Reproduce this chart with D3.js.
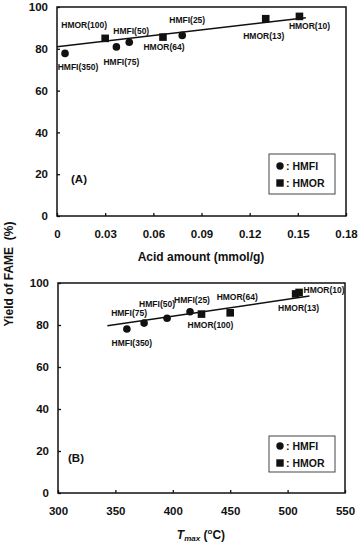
<!DOCTYPE html>
<html>
<head>
<meta charset="utf-8">
<script src="https://cdn.jsdelivr.net/npm/d3@7"></script>
<style>
	body { margin: 0; background: #fff; }
	svg { display: block; font-family: Arial, "Liberation Sans", sans-serif; font-weight: bold; }
</style>
</head>
<body>
<div id="chart"></div>
<script>
// catalysts, same order in both panels
const catalysts = ["HMFI(350)", "HMOR(100)", "HMFI(75)", "HMFI(50)", "HMOR(64)", "HMFI(25)", "HMOR(13)", "HMOR(10)"];
const catalystType = ["HMFI", "HMOR", "HMFI", "HMFI", "HMOR", "HMFI", "HMOR", "HMOR"];
const yieldA = [77.8, 85.0, 80.9, 83.1, 85.6, 86.4, 94.4, 95.5];
const acidAmount = [0.005, 0.030, 0.037, 0.045, 0.066, 0.078, 0.130, 0.151];
const yieldB = [78.1, 85.2, 80.9, 83.2, 85.8, 86.3, 94.8, 95.5];
const tMax = [360, 425, 375, 395, 450, 415, 507, 510];

// trend lines (end points)
const fitAx = [0, 0.155];
const fitAy = [81.0, 94.9];
const fitBx = [343, 519];
const fitBy = [79.6, 93.8];

const xTicksA = [0, 0.03, 0.06, 0.09, 0.12, 0.15, 0.18];
const xTicksB = [300, 350, 400, 450, 500, 550];
const yTicks = [0, 20, 40, 60, 80, 100];

const width = 359;
const height = 542;

// label offsets from the marker, px
const labelOffA = [[13, 14], [-21, -13], [5, 15], [2, -11], [1, 10], [5, -15], [-2, 17], [10, 10]];
const labelOffB = [[5, 14], [9, 11], [-15, -10], [-10, -14], [7, -16], [2, -12], [3, 14], [25, -2]];

const svg = d3.select("#chart")
	.append("svg")
	.attr("width", width)
	.attr("height", height);

svg.append("rect").attr("width", width).attr("height", height).attr("fill", "#fff");

const ink = "#111";

const drawPanel = (opt) => {
	const x = d3.scaleLinear().domain(opt.xDomain).range([opt.left, opt.right]);
	const y = d3.scaleLinear().domain([0, 100]).range([opt.bottom, opt.top]);

	const g = svg.append("g");

	g.append("g")
		.attr("transform", `translate(0,${opt.bottom})`)
		.call(d3.axisBottom(x).tickValues(opt.xTicks).tickSize(-3).tickPadding(14).tickFormat(opt.xFormat))
		.call((a) => a.select(".domain").remove())
		.call((a) => a.selectAll("line").attr("stroke", ink).attr("stroke-width", 1.3))
		.call((a) => a.selectAll("text").attr("fill", ink).style("font-size", "11.5px").style("font-family", "Arial, 'Liberation Sans', sans-serif").style("font-weight", "bold"));

	g.append("g")
		.attr("transform", `translate(${opt.left},0)`)
		.call(d3.axisLeft(y).tickValues(yTicks).tickSize(-3).tickPadding(9))
		.call((a) => a.select(".domain").remove())
		.call((a) => a.selectAll("line").attr("stroke", ink).attr("stroke-width", 1.3))
		.call((a) => a.selectAll("text").attr("fill", ink).style("font-size", "11.5px").style("font-family", "Arial, 'Liberation Sans', sans-serif").style("font-weight", "bold"));

	// frame
	g.append("rect")
		.attr("x", opt.left)
		.attr("y", opt.top)
		.attr("width", opt.right - opt.left)
		.attr("height", opt.bottom - opt.top)
		.attr("fill", "none")
		.attr("stroke", ink)
		.attr("stroke-width", 1.5);

	// trend line
	g.append("line")
		.attr("x1", x(opt.fitX[0]))
		.attr("y1", y(opt.fitY[0]))
		.attr("x2", x(opt.fitX[1]))
		.attr("y2", y(opt.fitY[1]))
		.attr("stroke", ink)
		.attr("stroke-width", 1.5);

	const pts = catalysts.map((name, i) => ({
		name,
		type: catalystType[i],
		xv: opt.xs[i],
		yv: opt.ys[i],
		off: opt.offsets[i],
	}));

	g.selectAll(".hmfi")
		.data(pts.filter((d) => d.type === "HMFI"))
		.join("circle")
		.attr("cx", (d) => x(d.xv))
		.attr("cy", (d) => y(d.yv))
		.attr("r", 3.8)
		.attr("fill", ink);

	g.selectAll(".hmor")
		.data(pts.filter((d) => d.type === "HMOR"))
		.join("rect")
		.attr("x", (d) => x(d.xv) - 3.8)
		.attr("y", (d) => y(d.yv) - 3.8)
		.attr("width", 7.6)
		.attr("height", 7.6)
		.attr("fill", ink);

	g.selectAll(".lbl")
		.data(pts)
		.join("text")
		.attr("x", (d) => x(d.xv) + d.off[0])
		.attr("y", (d) => y(d.yv) + d.off[1])
		.attr("dy", "0.35em")
		.attr("text-anchor", "middle")
		.attr("fill", ink)
		.style("font-size", "8.5px")
		.text((d) => d.name);

	// panel tag
	g.append("text")
		.attr("x", opt.tagX)
		.attr("y", opt.tagY)
		.attr("dy", "0.35em")
		.attr("fill", ink)
		.style("font-size", "11.5px")
		.text(opt.tag);

	// legend
	const lg = g.append("g").attr("transform", `translate(${opt.legX},${opt.legY})`);
	lg.append("rect")
		.attr("width", 66)
		.attr("height", opt.legH)
		.attr("fill", "#fff")
		.attr("stroke", "#444")
		.attr("stroke-width", 1);
	lg.append("circle").attr("cx", 11).attr("cy", opt.legRow1).attr("r", 3.7).attr("fill", ink);
	lg.append("rect").attr("x", 7.3).attr("y", opt.legRow2 - 3.7).attr("width", 7.4).attr("height", 7.4).attr("fill", ink);
	[[": HMFI", opt.legRow1], [": HMOR", opt.legRow2]].forEach(([t, cy]) => {
		lg.append("text")
			.attr("x", 17)
			.attr("y", cy)
			.attr("dy", "0.35em")
			.attr("fill", ink)
			.style("font-size", "10.5px")
			.text(t);
	});

	return { x, y };
};

const panelA = drawPanel({
	left: 57, right: 346, top: 7, bottom: 216,
	xDomain: [0, 0.18], xTicks: xTicksA, xFormat: (d) => (d === 0 ? "0" : d3.format(".2f")(d)),
	xs: acidAmount, ys: yieldA, fitX: fitAx, fitY: fitAy, offsets: labelOffA,
	tag: "(A)", tagX: 71, tagY: 179,
	legX: 269, legY: 154, legH: 40, legRow1: 12, legRow2: 29,
});

const panelB = drawPanel({
	left: 58, right: 345, top: 283, bottom: 493,
	xDomain: [300, 550], xTicks: xTicksB, xFormat: d3.format("d"),
	xs: tMax, ys: yieldB, fitX: fitBx, fitY: fitBy, offsets: labelOffB,
	tag: "(B)", tagX: 68, tagY: 458,
	legX: 269, legY: 436, legH: 36, legRow1: 10, legRow2: 27,
});

// axis titles
svg.append("text")
	.attr("x", 201)
	.attr("y", 261)
	.attr("text-anchor", "middle")
	.attr("fill", ink)
	.style("font-size", "12px")
	.text("Acid amount (mmol/g)");

const tt = svg.append("text")
	.attr("x", 201)
	.attr("y", 539)
	.attr("text-anchor", "middle")
	.attr("fill", ink)
	.style("font-size", "12px");
tt.append("tspan").style("font-style", "italic").text("T");
tt.append("tspan").style("font-style", "italic").style("font-size", "8px").attr("dy", 2).text("max");
tt.append("tspan").attr("dy", -2).text(" (");
tt.append("tspan").style("font-size", "8px").attr("dy", -5).text("o");
tt.append("tspan").attr("dy", 5).text("C)");

svg.append("text")
	.attr("transform", "translate(13,274) rotate(-90)")
	.attr("text-anchor", "middle")
	.attr("fill", ink)
	.attr("xml:space", "preserve")
	.style("font-size", "12px")
	.style("white-space", "pre")
	.text("Yield of FAME  (%)");
</script>
</body>
</html>
